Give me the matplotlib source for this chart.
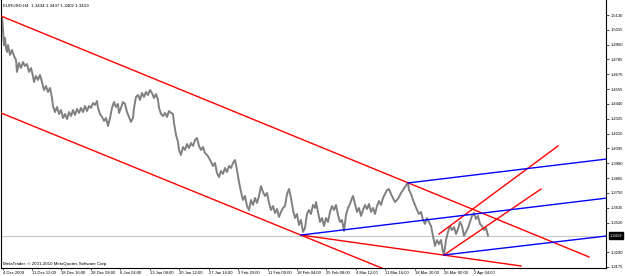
import matplotlib
matplotlib.use("Agg")
import matplotlib.pyplot as plt

# EURUSD H4, bar index vs price
bars = [0, 1, 2, 3, 4, 5, 6, 7, 9, 11, 13, 15, 16, 18, 20, 22, 24, 26, 28, 30,
        32, 33, 35, 37, 39, 41, 43, 45, 47, 49, 51, 52, 54, 56, 58, 60, 62, 64, 66, 68,
        70, 72, 74, 76, 78, 80, 82, 84, 86, 88, 90, 92, 94, 96, 97, 99, 101, 103, 105, 107,
        109, 111, 113, 115, 117, 118, 120, 122, 124, 126, 128, 130, 132, 133, 135, 137, 139, 141, 143, 145,
        147, 149, 151, 153, 155, 157, 158, 160, 162, 164, 166, 168, 170, 172, 173, 175, 177, 178, 180, 182,
        184, 186, 188, 190, 192, 194, 196, 198, 200, 202, 204, 206, 208, 210, 212, 214, 216, 218, 220, 222,
        224, 226, 228, 230, 232, 234, 236, 238, 240, 242, 244, 246, 248, 250, 252, 254, 256, 258, 260, 262,
        264, 266, 268, 270, 272, 274, 276, 278, 280, 282, 284, 286, 288, 290, 292, 294, 296, 298, 300, 302,
        304, 306, 308, 310, 312, 314, 315, 317, 319, 321, 323, 325, 327, 329, 331, 333, 335, 337, 339, 341,
        343, 345, 347, 349, 351, 352, 354, 356, 358, 360, 362, 364, 366, 368, 370, 372, 374, 376, 378, 380,
        382, 384, 386, 388, 390, 392, 394, 396, 398, 400, 402, 404, 406, 407, 408, 410, 412, 414, 416, 418,
        420, 422, 424, 426, 428, 430, 432, 434, 436, 438, 440, 442, 443, 445, 447, 449, 451, 453, 455, 457,
        459, 461, 463, 465, 467, 469, 471, 473, 475, 477, 479, 481, 483, 485, 487]
close = [1.5091, 1.5114, 1.5014, 1.4897, 1.4952, 1.4874, 1.4843, 1.4897, 1.4820, 1.4859,
         1.4812, 1.4781, 1.4688, 1.4758, 1.4719, 1.4765, 1.4734, 1.4750, 1.4688, 1.4719,
         1.4657, 1.4610, 1.4657, 1.4626, 1.4665, 1.4610, 1.4548, 1.4579, 1.4533, 1.4564,
         1.4486, 1.4424, 1.4377, 1.4416, 1.4362, 1.4393, 1.4331, 1.4362, 1.4323, 1.4377,
         1.4346, 1.4393, 1.4354, 1.4401, 1.4370, 1.4409, 1.4377, 1.4424, 1.4385, 1.4424,
         1.4409, 1.4447, 1.4432, 1.4463, 1.4409, 1.4362, 1.4339, 1.4308, 1.4331, 1.4269,
         1.4331, 1.4409, 1.4455, 1.4416, 1.4440, 1.4370, 1.4409, 1.4455, 1.4440, 1.4377,
         1.4339, 1.4300, 1.4331, 1.4409, 1.4494, 1.4509, 1.4471, 1.4525, 1.4494, 1.4533,
         1.4509, 1.4548, 1.4525, 1.4486, 1.4517, 1.4471, 1.4409, 1.4362, 1.4346, 1.4370,
         1.4339, 1.4385, 1.4370, 1.4362, 1.4292, 1.4199, 1.4145, 1.4083, 1.4044, 1.4106,
         1.4083, 1.4129, 1.4098, 1.4137, 1.4114, 1.4160, 1.4176, 1.4114, 1.4083, 1.4106,
         1.4059, 1.4044, 1.4021, 1.3990, 1.3959, 1.3982, 1.3904, 1.3873, 1.3920, 1.3897,
         1.3943, 1.3912, 1.3959, 1.3943, 1.3982, 1.4005, 1.3928, 1.3834, 1.3757, 1.3695,
         1.3726, 1.3648, 1.3617, 1.3695, 1.3656, 1.3710, 1.3672, 1.3726, 1.3803, 1.3757,
         1.3726, 1.3749, 1.3672, 1.3617, 1.3648, 1.3594, 1.3625, 1.3563, 1.3602, 1.3633,
         1.3648, 1.3741, 1.3780, 1.3710, 1.3617, 1.3555, 1.3586, 1.3501, 1.3540, 1.3447,
         1.3478, 1.3586, 1.3617, 1.3586, 1.3656, 1.3633, 1.3679, 1.3602, 1.3524, 1.3555,
         1.3493, 1.3555, 1.3524, 1.3602, 1.3648, 1.3617, 1.3656, 1.3578, 1.3524, 1.3540,
         1.3454, 1.3578, 1.3633, 1.3664, 1.3710, 1.3726, 1.3664, 1.3602, 1.3633, 1.3571,
         1.3617, 1.3656, 1.3625, 1.3664, 1.3602, 1.3633, 1.3586, 1.3648, 1.3687, 1.3656,
         1.3710, 1.3741, 1.3772, 1.3780, 1.3741, 1.3710, 1.3679, 1.3695, 1.3718, 1.3749,
         1.3772, 1.3796, 1.3819, 1.3827, 1.3772, 1.3741, 1.3695, 1.3656, 1.3617, 1.3586,
         1.3602, 1.3540, 1.3509, 1.3555, 1.3524, 1.3493, 1.3416, 1.3338, 1.3384, 1.3353,
         1.3384, 1.3291, 1.3268, 1.3384, 1.3447, 1.3493, 1.3462, 1.3485, 1.3431, 1.3470,
         1.3524, 1.3493, 1.3416, 1.3447, 1.3478, 1.3524, 1.3571, 1.3594, 1.3547, 1.3571,
         1.3509, 1.3493, 1.3462, 1.3478, 1.3419]

# trendlines: (bar0, price0, bar1, price1)
red_lines = [
    (0, 1.5122, 588, 1.3253),    # upper channel
    (0, 1.4370, 400, 1.3106),    # lower channel
    (300, 1.3423, 520, 1.3183),  # support through lows
    (438, 1.3431, 557, 1.4114),  # rising channel top
    (443, 1.3268, 540, 1.3780),  # rising channel bottom
]
blue_lines = [
    (407, 1.3827, 606, 1.4013),
    (300, 1.3423, 606, 1.3710),
    (443, 1.3268, 606, 1.3416),
]

price_ticks = [1.5130, 1.5015, 1.4900, 1.4785, 1.4670, 1.4555, 1.4440, 1.4325, 1.4210,
               1.4095, 1.3980, 1.3865, 1.3750, 1.3635, 1.3520, 1.3290, 1.3175]
date_pos = [2, 31, 60, 90, 119, 149, 178, 208, 237, 267, 296, 325, 355, 384, 414, 443, 473]
date_labels = ["4 Dec 2009", "11 Dec 12:00", "18 Dec 16:00", "28 Dec 08:00", "6 Jan 04:00",
               "13 Jan 08:00", "20 Jan 12:00", "27 Jan 16:00", "3 Feb 20:00", "11 Feb 00:00",
               "18 Feb 04:00", "25 Feb 08:00", "4 Mar 12:00", "11 Mar 16:00", "18 Mar 20:00",
               "26 Mar 00:00", "2 Apr 04:00"]
last_ohlc = [1.3434, 1.3437, 1.3402, 1.3419]

plt.rcParams['font.family'] = ['Liberation Sans', 'DejaVu Sans']

fig = plt.figure(figsize=(6.25, 2.76), dpi=100)
ax = fig.add_axes([1 / 625, 8 / 276, 605 / 625, 268 / 276])
ax.set_xlim(0, 605)
ax.set_ylim(1.31672, 1.52464)

# bid line
ax.axhline(last_ohlc[3], color='#c8c8c8', lw=0.8, zorder=1)

ax.plot(bars, close, color='#808080', lw=1.4, zorder=2)

for x0, y0, x1, y1 in red_lines:
    ax.plot([x0, x1], [y0, y1], color='#ff0000', lw=1.0, zorder=3)
for x0, y0, x1, y1 in blue_lines:
    ax.plot([x0, x1], [y0, y1], color='#0000ff', lw=1.0, zorder=3)

ax.spines['top'].set_visible(False)
for s in ['left', 'right', 'bottom']:
    ax.spines[s].set_linewidth(0.8)

ax.yaxis.tick_right()
ax.set_yticks(price_ticks)
ax.set_yticklabels(["%.4f" % p for p in price_ticks])
ax.tick_params(axis='y', direction='out', length=2, width=0.5, pad=1.5, labelsize=3.0)

ax.set_xticks(date_pos)
ax.set_xticklabels(date_labels, ha='left')
ax.tick_params(axis='x', direction='out', length=1.5, width=0.5, pad=1.0, labelsize=3.0)

# current price box
ax.text(1.006, last_ohlc[3], "%.4f" % last_ohlc[3], transform=ax.get_yaxis_transform(),
        ha='left', va='center', color='white', fontsize=3.0,
        bbox=dict(facecolor='black', edgecolor='black', pad=0.8))

fig.text(3 / 625, 1 - 6 / 276, "EURUSD,H4  " + " ".join("%.4f" % v for v in last_ohlc),
         fontsize=3.2, va='center', ha='left')
fig.text(3 / 625, 1 - 264 / 276, "MetaTrader, \u00a9 2001-2010 MetaQuotes Software Corp.",
         fontsize=3.2, va='center', ha='left')

fig.savefig("out.png", dpi=100)
